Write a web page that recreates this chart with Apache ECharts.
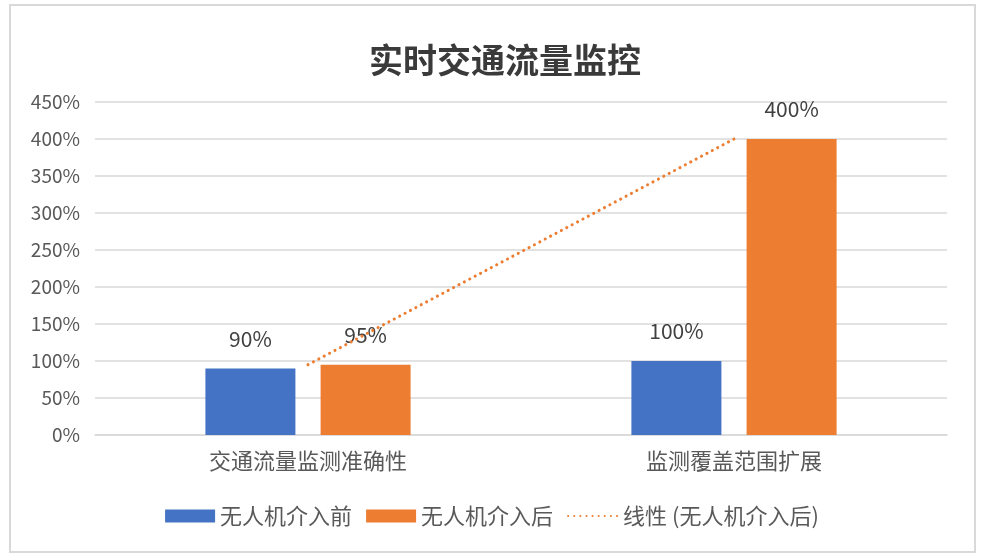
<!DOCTYPE html>
<html>
<head>
<meta charset="utf-8">
<script src="https://cdn.jsdelivr.net/npm/echarts@6/dist/echarts.min.js"></script>
<style>
  html, body { margin: 0; padding: 0; background: #fff; }
  #frame { position: absolute; left: 9px; top: 4px; width: 963px; height: 545px; border: 2px solid #d9d9d9; }
  #chart { position: absolute; left: 0; top: 0; width: 984px; height: 558px; }
</style>
</head>
<body>
<div id="frame"></div>
<div id="chart"></div>
<script>
// 数据
const categories = ['交通流量监测准确性', '监测覆盖范围扩展'];
const beforeValues = [90, 100];
const afterValues = [95, 400];
const trendValues = [95, 400];
const yTicks = [0, 50, 100, 150, 200, 250, 300, 350, 400, 450];

const FONT = '"Noto Sans CJK SC", "Noto Sans", sans-serif';

const labelStyle = {
  show: true,
  position: 'top',
  distance: 19,
  formatter: '{c}%',
  color: '#404040',
  fontSize: 21,
  fontFamily: FONT
};

const options = {
  animation: false,
  title: {
    text: '实时交通流量监控',
    left: 364,
    top: 38,
    textStyle: {
      color: '#3a3a3a',
      fontSize: 34,
      fontWeight: 'bold',
      fontFamily: FONT
    }
  },
  legend: {
    bottom: 26,
    left: 'center',
    itemWidth: 50,
    itemHeight: 13,
    itemGap: 14,
    textStyle: {
      color: '#595959',
      fontSize: 22,
      fontFamily: FONT
    },
    data: [
      { name: '无人机介入前', icon: 'rect' },
      { name: '无人机介入后', icon: 'rect' },
      { name: '线性 (无人机介入后)', itemStyle: { opacity: 0 } }
    ]
  },
  grid: {
    left: 95,
    right: 37,
    top: 102,
    bottom: 123,
    containLabel: false
  },
  xAxis: {
    type: 'category',
    data: categories,
    boundaryGap: true,
    axisLine: { lineStyle: { color: '#d9d9d9', width: 1.5 } },
    axisTick: { show: false },
    axisLabel: {
      color: '#595959',
      fontSize: 22,
      margin: 15,
      fontFamily: FONT
    }
  },
  yAxis: {
    type: 'value',
    min: yTicks[0],
    max: yTicks[yTicks.length - 1],
    interval: 50,
    axisLine: { show: false },
    axisTick: { show: false },
    axisLabel: {
      color: '#595959',
      fontSize: 19,
      margin: 15,
      fontFamily: FONT,
      formatter: '{value}%'
    },
    splitLine: {
      lineStyle: { color: '#d9d9d9', width: 1.5 }
    }
  },
  series: [
    {
      name: '无人机介入前',
      type: 'bar',
      data: beforeValues,
      barWidth: 90,
      barGap: '28%',
      itemStyle: { color: '#4472c4' },
      label: labelStyle
    },
    {
      name: '无人机介入后',
      type: 'bar',
      data: afterValues,
      barWidth: 90,
      barGap: '28%',
      itemStyle: { color: '#ed7d31' },
      label: labelStyle
    },
    {
      name: '线性 (无人机介入后)',
      type: 'line',
      data: trendValues,
      symbol: 'none',
      z: 5,
      itemStyle: { color: '#ed7d31' },
      lineStyle: {
        color: '#ed7d31',
        width: 3,
        type: [0.1, 6],
        cap: 'round'
      }
    }
  ]
};

let chart = echarts.init(document.getElementById('chart'));
chart.setOption(options, true);
</script>
</body>
</html>
